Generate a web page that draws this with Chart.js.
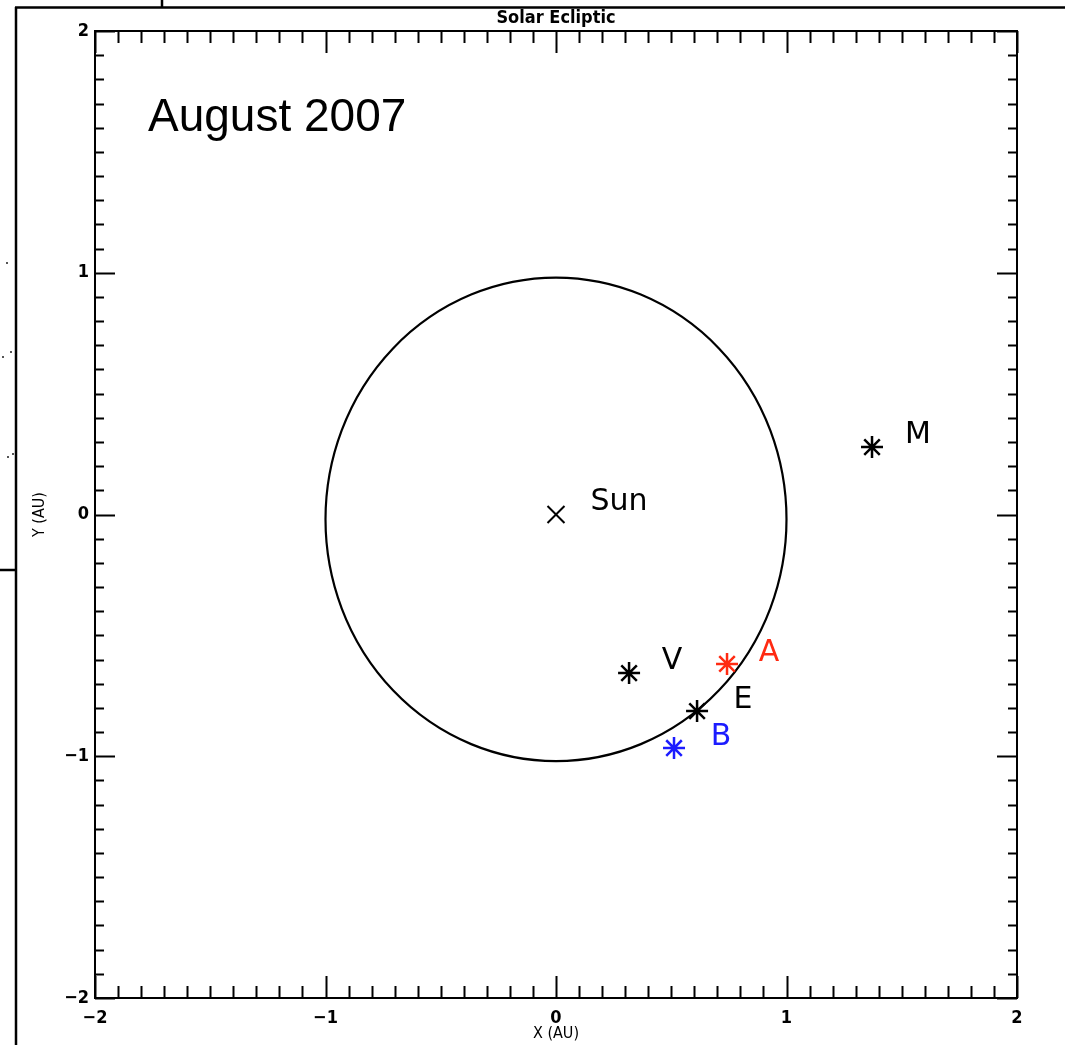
<!DOCTYPE html>
<html>
<head>
<meta charset="utf-8">
<script src="https://cdn.jsdelivr.net/npm/chart.js@4/dist/chart.umd.min.js"></script>
<style>
  html, body { margin: 0; padding: 0; background: #fff; }
  canvas { display: block; }
</style>
</head>
<body>
<canvas id="chart" width="1065" height="1045"></canvas>
<script>
// Heliocentric positions in the solar ecliptic plane (AU)
const bodyNames = ['Sun', 'V', 'E', 'M', 'A', 'B'];
const bodyX = [0, 0.317, 0.612, 1.371, 0.742, 0.512];
const bodyY = [0, -0.656, -0.813, 0.279, -0.618, -0.966];

// Earth orbit outline
const orbitCenter = [0, -0.02];
const orbitRadius = 1.0;

// Axis ranges and tick labels
const axisMin = -2;
const axisMax = 2;
const minorStep = 0.1;
const majorTickLabels = ['−2', '−1', '0', '1', '2'];

const titleText = 'Solar Ecliptic';
const dateText = 'August 2007';

function pt(i) { return { x: bodyX[i], y: bodyY[i] }; }

const labelStyle = {
  Sun: { color: '#000', dx: 63, dy: -12 },
  V:   { color: '#000', dx: 43, dy: -12 },
  E:   { color: '#000', dx: 46, dy: -11 },
  M:   { color: '#000', dx: 46, dy: -12 },
  A:   { color: '#ff2a12', dx: 42, dy: -11 },
  B:   { color: '#1c1cff', dx: 47, dy: -11 }
};

function isMajor(v) { return Math.abs(v - Math.round(v)) < 1e-6; }
function tickText(v) {
  if (!isMajor(v)) return '';
  const idx = Math.round(v) - axisMin;
  return majorTickLabels[idx];
}

// Orbit circle drawn through the scales
const orbitPlugin = {
  id: 'orbit',
  beforeDatasetsDraw(chart) {
    const { ctx, scales: { x, y } } = chart;
    const cx = x.getPixelForValue(orbitCenter[0]);
    const cy = y.getPixelForValue(orbitCenter[1]);
    const rx = Math.abs(x.getPixelForValue(orbitCenter[0] + orbitRadius) - cx);
    const ry = Math.abs(y.getPixelForValue(orbitCenter[1] + orbitRadius) - cy);
    ctx.save();
    ctx.strokeStyle = '#000';
    ctx.lineWidth = 2.2;
    ctx.beginPath();
    ctx.ellipse(cx, cy, rx, ry, 0, 0, Math.PI * 2);
    ctx.stroke();
    ctx.restore();
  }
};

// Plot frame with inward ticks on all four sides
const framePlugin = {
  id: 'frame',
  afterDraw(chart) {
    const { ctx, chartArea: a, scales: { x, y } } = chart;
    ctx.save();
    ctx.strokeStyle = '#000';
    ctx.lineWidth = 2;
    ctx.strokeRect(a.left, a.top, a.right - a.left, a.bottom - a.top);
    ctx.beginPath();
    x.ticks.forEach(t => {
      const px = Math.round(x.getPixelForValue(t.value)) + 0.5;
      const len = isMajor(t.value) ? 22 : 12;
      ctx.moveTo(px, a.bottom); ctx.lineTo(px, a.bottom - len);
      ctx.moveTo(px, a.top); ctx.lineTo(px, a.top + len);
    });
    y.ticks.forEach(t => {
      const py = Math.round(y.getPixelForValue(t.value)) + 0.5;
      const len = isMajor(t.value) ? 20 : 9;
      ctx.moveTo(a.left, py); ctx.lineTo(a.left + len, py);
      ctx.moveTo(a.right, py); ctx.lineTo(a.right - len, py);
    });
    ctx.stroke();
    ctx.restore();
  }
};

// Body name labels, plot title, date caption and page border lines
const textPlugin = {
  id: 'texts',
  afterDraw(chart) {
    const { ctx } = chart;
    ctx.save();
    chart.data.datasets.forEach((ds, di) => {
      const meta = chart.getDatasetMeta(di);
      meta.data.forEach((el, j) => {
        const name = ds.names[j];
        const s = labelStyle[name];
        ctx.fillStyle = s.color;
        ctx.font = '30px "DejaVu Sans", sans-serif';
        ctx.textAlign = 'center';
        ctx.textBaseline = 'middle';
        ctx.fillText(name, el.x + s.dx, el.y + s.dy);
      });
    });

    ctx.fillStyle = '#000';
    ctx.font = 'bold 18px "Liberation Sans Narrow", "DejaVu Sans Condensed", "DejaVu Sans", sans-serif';
    ctx.textAlign = 'center';
    ctx.textBaseline = 'alphabetic';
    ctx.fillText(titleText, (chart.chartArea.left + chart.chartArea.right) / 2, 23);

    ctx.font = '46px "Liberation Sans", Arial, sans-serif';
    ctx.textAlign = 'left';
    ctx.fillText(dateText, 148, 131);

    ctx.strokeStyle = '#000';
    ctx.lineWidth = 2.5;
    ctx.beginPath();
    ctx.moveTo(15, 7.5); ctx.lineTo(1065, 7.5);
    ctx.moveTo(16, 7); ctx.lineTo(16, 1045);
    ctx.moveTo(162, 0); ctx.lineTo(162, 7);
    ctx.moveTo(0, 570); ctx.lineTo(16, 570);
    ctx.stroke();

    ctx.fillStyle = '#555';
    [[6, 262], [2, 356], [10, 351], [7, 456], [12, 453]].forEach(p => ctx.fillRect(p[0], p[1], 2, 2));
    ctx.restore();
  }
};

const tickFont = { family: '"Liberation Sans Narrow", "DejaVu Sans Condensed", "DejaVu Sans", sans-serif', size: 18, weight: 'bold' };
const axisTitleFont = { family: '"Liberation Sans Narrow", "DejaVu Sans Condensed", "DejaVu Sans", sans-serif', size: 16 };

new Chart(document.getElementById('chart'), {
  type: 'scatter',
  data: {
    datasets: [
      {
        names: ['Sun'],
        data: [pt(0)],
        pointStyle: 'crossRot',
        pointRadius: 12,
        borderColor: '#000',
        borderWidth: 2
      },
      {
        names: ['V', 'E', 'M'],
        data: [pt(1), pt(2), pt(3)],
        pointStyle: 'star',
        pointRadius: 11,
        borderColor: '#000',
        borderWidth: 2.5
      },
      {
        names: ['A'],
        data: [pt(4)],
        pointStyle: 'star',
        pointRadius: 11,
        borderColor: '#ff2a12',
        borderWidth: 2.5
      },
      {
        names: ['B'],
        data: [pt(5)],
        pointStyle: 'star',
        pointRadius: 11,
        borderColor: '#1c1cff',
        borderWidth: 2.5
      }
    ]
  },
  options: {
    responsive: false,
    animation: false,
    layout: { padding: { top: 31, right: 48, left: 0, bottom: 0 } },
    plugins: {
      legend: { display: false },
      tooltip: { enabled: false }
    },
    scales: {
      x: {
        type: 'linear',
        min: axisMin,
        max: axisMax,
        grid: { display: false, drawTicks: false },
        border: { display: false },
        ticks: {
          stepSize: minorStep,
          autoSkip: false,
          maxRotation: 0,
          padding: 10,
          color: '#000',
          font: tickFont,
          callback: v => tickText(v)
        },
        title: {
          display: true,
          text: 'X (AU)',
          color: '#000',
          font: axisTitleFont,
          padding: { top: 0, bottom: 2 }
        },
        afterFit(scale) { scale.height = 47; }
      },
      y: {
        type: 'linear',
        min: axisMin,
        max: axisMax,
        grid: { display: false, drawTicks: false },
        border: { display: false },
        ticks: {
          stepSize: minorStep,
          autoSkip: false,
          padding: 6,
          color: '#000',
          font: tickFont,
          callback: v => tickText(v)
        },
        title: {
          display: true,
          text: 'Y (AU)',
          color: '#000',
          font: axisTitleFont,
          padding: { top: 30, bottom: 0 }
        },
        afterFit(scale) { scale.width = 95; }
      }
    }
  },
  plugins: [orbitPlugin, framePlugin, textPlugin]
});
</script>
</body>
</html>
